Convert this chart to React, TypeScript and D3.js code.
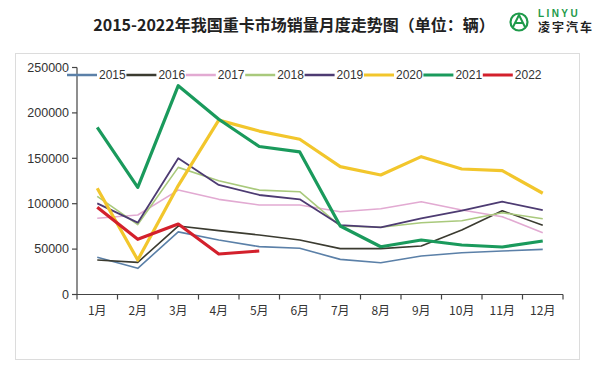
import React from 'react';
import * as d3 from 'd3';

const months = ['1月', '2月', '3月', '4月', '5月', '6月', '7月', '8月', '9月', '10月', '11月', '12月'];
const years = ['2015', '2016', '2017', '2018', '2019', '2020', '2021', '2022'];
const yTicks = [0, 50000, 100000, 150000, 200000, 250000];

const s2015 = [41000, 28800, 69000, 60000, 52700, 50900, 38700, 35000, 42400, 46000, 47900, 49700];
const s2016 = [38000, 35400, 75400, 70300, 65500, 60000, 50500, 50500, 53400, 71000, 92300, 76200];
const s2017 = [83900, 87500, 115000, 104800, 98600, 98600, 91200, 94500, 102200, 93000, 85700, 68100];
const s2018 = [108000, 77000, 140000, 125300, 115000, 113200, 75400, 74000, 79100, 81300, 90100, 83500];
const s2019 = [100400, 79100, 150000, 120600, 109600, 104800, 76500, 74000, 83900, 92300, 102200, 93000];
const s2020 = [117000, 38000, 120000, 192000, 180000, 171000, 140800, 131600, 151800, 138200, 136400, 111500];
const s2021 = [184000, 118000, 230000, 193000, 163000, 157000, 75400, 52600, 60000, 54500, 52300, 58900];
const s2022 = [96000, 60800, 77600, 44600, 47900];

const series = [s2015, s2016, s2017, s2018, s2019, s2020, s2021, s2022];
const colors = ['#5b80a8', '#3b3b30', '#e2aad2', '#a9c97c', '#4d3b72', '#f2c62c', '#1a9a5c', '#d3202c'];
const widths = [1.6, 1.6, 1.6, 1.6, 1.8, 3.2, 3.2, 3.2];

const x = d3.scaleBand<string>().domain(months).range([77, 563]);
const y = d3.scaleLinear().domain([0, 250000]).range([294.5, 67.5]);

const line = d3.line<number>()
  .x((d, i) => x(months[i])! + x.bandwidth() / 2)
  .y(d => y(d));

export default function App() {
  const sans = 'Liberation Sans, Arial, sans-serif';
  const tickPos = months.map(m => x(m)!).concat([x.range()[1]]);
  return (
    <svg width={600} height={373} style={{ position: 'absolute', left: 0, top: 0, background: '#fff' }}>
      <rect x={0} y={0} width={600} height={373} fill="#fff" />
      {/* title */}
      <text x={294} y={31} textAnchor="middle" fontFamily="Noto Sans CJK SC" fontWeight="bold" fontSize={16} fill="#222">
        2015-2022年我国重卡市场销量月度走势图（单位：辆）
      </text>
      {/* logo */}
      <g>
        <circle cx={519} cy={22} r={8.5} fill="none" stroke="#1e9a4a" strokeWidth={2.2} />
        <path d="M513,27 L519,15 L525,27 M515.5,23 L522.5,23" fill="none" stroke="#1e9a4a" strokeWidth={2} />
        <text x={538} y={16.5} fontFamily={sans} fontWeight="bold" fontSize={10} fill="#1e9a4a" letterSpacing={2.4}>LINYU</text>
        <text x={538} y={32} fontFamily="Noto Sans CJK SC" fontWeight="bold" fontSize={12} fill="#222" letterSpacing={2}>凌宇汽车</text>
      </g>
      {/* frame */}
      <rect x={15.5} y={53.5} width={564} height={306} fill="none" stroke="#dcdcdc" strokeWidth={1} />

      {/* y axis */}
      <line x1={77} x2={77} y1={y(250000)} y2={y(0)} stroke="#444" strokeWidth={1.2} />
      {yTicks.map(t => (
        <g key={t}>
          <line x1={72} x2={77} y1={y(t)} y2={y(t)} stroke="#444" strokeWidth={1.2} />
          <text x={69} y={y(t)} dy="0.35em" textAnchor="end" fontFamily={sans} fontSize={12.5} fill="#333">{t}</text>
        </g>
      ))}

      {/* x axis */}
      <line x1={x.range()[0]} x2={x.range()[1]} y1={y(0)} y2={y(0)} stroke="#444" strokeWidth={1.2} />
      {tickPos.map((p, i) => (
        <line key={i} x1={p} x2={p} y1={y(0)} y2={y(0) + 5} stroke="#444" strokeWidth={1.2} />
      ))}
      {months.map(m => (
        <text key={m} x={x(m)! + x.bandwidth() / 2} y={315} textAnchor="middle" fontFamily="Noto Sans CJK SC" fontSize={12} fill="#333">{m}</text>
      ))}

      {/* lines */}
      {series.map((s, i) => (
        <path key={years[i]} d={line(s)!} fill="none" stroke={colors[i]} strokeWidth={widths[i]} strokeLinejoin="round" />
      ))}

      {/* legend */}
      {years.map((yr, i) => {
        const lx = 67 + i * 59.4;
        return (
          <g key={yr}>
            <line x1={lx} x2={lx + 30} y1={75} y2={75} stroke={colors[i]} strokeWidth={widths[i] < 3 ? 2.5 : 3} />
            <text x={lx + 32} y={75} dy="0.35em" fontFamily={sans} fontSize={12} fill="#333">{yr}</text>
          </g>
        );
      })}
    </svg>
  );
}
